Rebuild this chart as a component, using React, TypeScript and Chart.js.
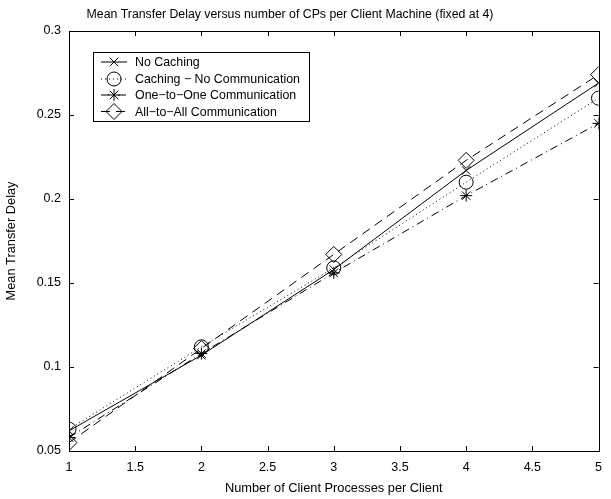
import React, { useEffect, useRef } from "react";
import { Chart, registerables } from "chart.js";
import { drawPoint } from "chart.js/helpers";

Chart.register(...registerables);

const xValues = [1, 2, 3, 4, 5];
const noCaching = [0.062, 0.107, 0.158, 0.217, 0.269];
const cachingNoComm = [0.063, 0.112, 0.159, 0.21, 0.26];
const oneToOne = [0.058, 0.108, 0.156, 0.202, 0.245];
const allToAll = [0.055, 0.111, 0.167, 0.223, 0.274];

const seriesLabels = [
  "No Caching",
  "Caching \u2212 No Communication",
  "One\u2212to\u2212One Communication",
  "All\u2212to\u2212All Communication",
];

const xTicks = [1, 1.5, 2, 2.5, 3, 3.5, 4, 4.5, 5];
const xTickLabels = ["1", "1.5", "2", "2.5", "3", "3.5", "4", "4.5", "5"];
const yTicks = [0.05, 0.1, 0.15, 0.2, 0.25, 0.3];
const yTickLabels = ["0.05", "0.1", "0.15", "0.2", "0.25", "0.3"];

const titleText = "Mean Transfer Delay versus number of CPs per Client Machine (fixed at 4)";
const xTitle = "Number of Client Processes per Client";
const yTitle = "Mean Transfer Delay";

const FONT = "'Liberation Sans', Arial, Helvetica, sans-serif";

const boxPlugin = {
  id: "boxPlugin",
  afterDraw(chart: any) {
    const ctx = chart.ctx;
    const { left, right, top, bottom } = chart.chartArea;
    const xs = chart.scales.x;
    const ys = chart.scales.y;
    ctx.save();
    ctx.strokeStyle = "#000";
    ctx.lineWidth = 1;
    ctx.setLineDash([]);
    ctx.strokeRect(Math.round(left) + 0.5, Math.round(top) + 0.5, Math.round(right - left), Math.round(bottom - top));
    const tl = 5;
    ctx.beginPath();
    xTicks.forEach((v) => {
      const px = Math.round(xs.getPixelForValue(v)) + 0.5;
      ctx.moveTo(px, bottom);
      ctx.lineTo(px, bottom - tl);
      ctx.moveTo(px, top);
      ctx.lineTo(px, top + tl);
    });
    yTicks.forEach((v) => {
      const py = Math.round(ys.getPixelForValue(v)) + 0.5;
      ctx.moveTo(left, py);
      ctx.lineTo(left + tl, py);
      ctx.moveTo(right, py);
      ctx.lineTo(right - tl, py);
    });
    ctx.stroke();

    // title
    ctx.fillStyle = "#000";
    ctx.font = `12.3px ${FONT}`;
    ctx.textAlign = "center";
    ctx.textBaseline = "middle";
    ctx.fillText(titleText, 290, 15);

    // legend
    const bx = 93.5, by = 52.5, bw = 216, bh = 69;
    ctx.fillStyle = "#fff";
    ctx.fillRect(bx, by, bw, bh);
    ctx.strokeStyle = "#000";
    ctx.strokeRect(bx, by, bw, bh);
    const rows = [62, 79, 95, 111.5];
    chart.data.datasets.forEach((ds: any, i: number) => {
      const y = rows[i];
      ctx.save();
      ctx.strokeStyle = "#000";
      ctx.lineWidth = 1;
      ctx.setLineDash(ds.borderDash || []);
      ctx.beginPath();
      ctx.moveTo(101, y);
      ctx.lineTo(127, y);
      ctx.stroke();
      ctx.setLineDash([]);
      ctx.fillStyle = "rgba(0,0,0,0)";
      drawPoint(ctx, {
        pointStyle: ds.pointStyle,
        radius: ds.pointRadius,
        borderWidth: 1,
        rotation: 0,
      } as any, 114, y);
      ctx.restore();
      ctx.fillStyle = "#000";
      ctx.font = `12.4px ${FONT}`;
      ctx.textAlign = "left";
      ctx.textBaseline = "middle";
      ctx.fillText(ds.label, 135, y + 1);
    });
    ctx.restore();
  },
};

export default function App() {
  const ref = useRef<HTMLCanvasElement>(null);
  useEffect(() => {
    if (!ref.current) return;
    const mk = (label: string, data: number[], dash: number[], style: string, r: number) => ({
      label,
      data: xValues.map((x, i) => ({ x, y: data[i] })),
      borderColor: "#000",
      backgroundColor: "rgba(0,0,0,0)",
      borderWidth: 1,
      borderDash: dash,
      pointStyle: style,
      pointRadius: r,
      pointBorderColor: "#000",
      pointBackgroundColor: "rgba(0,0,0,0)",
      pointBorderWidth: 1,
      tension: 0,
      fill: false,
    });
    const chart = new Chart(ref.current, {
      type: "line",
      data: {
        datasets: [
          mk(seriesLabels[0], noCaching, [], "crossRot", 6),
          mk(seriesLabels[1], cachingNoComm, [1, 3], "circle", 7),
          mk(seriesLabels[2], oneToOne, [8, 4, 1, 4], "star", 6),
          mk(seriesLabels[3], allToAll, [9, 6], "rectRot", 8),
        ] as any,
      },
      options: {
        animation: false,
        responsive: false,
        maintainAspectRatio: false,
        layout: { padding: { top: 31, right: 6, left: 0, bottom: 0 } },
        plugins: {
          legend: { display: false },
          title: { display: false },
          tooltip: { enabled: false },
        },
        scales: {
          x: {
            type: "linear",
            min: 1,
            max: 5,
            afterBuildTicks: (s: any) => {
              s.ticks = xTicks.map((v) => ({ value: v }));
            },
            afterFit: (s: any) => {
              s.height = 48;
            },
            grid: { display: false, drawTicks: false },
            border: { display: false },
            ticks: {
              padding: 9,
              color: "#000",
              font: { family: FONT, size: 12.5 },
              maxRotation: 0,
              autoSkip: false,
              callback: (v: any) => {
                const i = xTicks.findIndex((t) => Math.abs(t - v) < 1e-9);
                return i >= 0 ? xTickLabels[i] : "";
              },
            },
            title: {
              display: true,
              text: xTitle,
              color: "#000",
              font: { family: FONT, size: 12.8 },
              padding: { top: 0, bottom: 3 },
            },
          },
          y: {
            type: "linear",
            min: 0.05,
            max: 0.3,
            afterBuildTicks: (s: any) => {
              s.ticks = yTicks.map((v) => ({ value: v }));
            },
            afterFit: (s: any) => {
              s.width = 69;
            },
            grid: { display: false, drawTicks: false },
            border: { display: false },
            ticks: {
              padding: 8,
              color: "#000",
              font: { family: FONT, size: 12.5 },
              autoSkip: false,
              callback: (v: any) => {
                const i = yTicks.findIndex((t) => Math.abs(t - v) < 1e-9);
                return i >= 0 ? yTickLabels[i] : "";
              },
            },
            title: {
              display: true,
              text: yTitle,
              color: "#000",
              font: { family: FONT, size: 12.8 },
              padding: { top: 4, bottom: 0 },
            },
          },
        },
      },
      plugins: [boxPlugin],
    });
    return () => chart.destroy();
  }, []);
  return (
    <div style={{ position: "absolute", left: 0, top: 0, width: 611, height: 499, background: "#fff" }}>
      <canvas ref={ref} width={611} height={499} style={{ display: "block" }} />
    </div>
  );
}
